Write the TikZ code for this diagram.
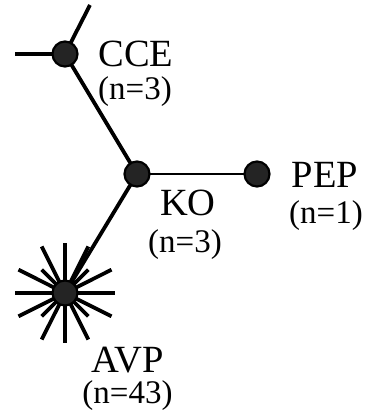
\documentclass[tikz,border=0pt]{standalone}
\usepackage{fontspec}
\setmainfont{Liberation Serif}
\usetikzlibrary{backgrounds}
\begin{document}
\begin{tikzpicture}[x=1pt,y=-1pt,
  vertex/.style={circle,draw=black,line width=2.2pt,fill=black!86,minimum size=25pt,inner sep=0pt},
  conn/.style={line width=3.8pt,line cap=butt},
  thinconn/.style={line width=2.6pt},
  spoke/.style={line width=3.8pt},
  lblname/.style={anchor=base,inner sep=0pt,font=\fontsize{38.5}{42}\selectfont},
  lblcount/.style={anchor=base,inner sep=0pt,font=\fontsize{33}{36}\selectfont}]
\useasboundingbox (0,0) rectangle (371,414);
\node[vertex] (cce) at (65,54) {};
\node[vertex] (ko) at (137,174) {};
\node[vertex] (pep) at (257,174) {};
\node[vertex] (avp) at (65,293) {};
\coordinate (cceup) at (90,5);
\coordinate (cceleft) at (15,54);
\node[lblname] (lcce) at (136,67) {CCE};
\node[lblcount] (ncce) at (135,100) {(n=3)};
\node[lblname] (lpep) at (325,187) {PEP};
\node[lblcount] (npep) at (326,223) {(n=1)};
\node[lblname] (lko) at (188,215) {KO};
\node[lblcount] (nko) at (185,252) {(n=3)};
\node[lblname] (lavp) at (128,372) {AVP};
\node[lblcount] (navp) at (127.5,403) {(n=43)};
\begin{scope}[on background layer]
\draw[conn] (cce.center) -- (cceup);
\draw[conn] (cce.center) -- (cceleft);
\draw[conn] (cce.center) -- (ko.center);
\draw[conn] (ko.center) -- (avp.center);
\draw[thinconn] (ko.center) -- (pep.center);
\foreach \a in {0,90,180,270}
  \draw[spoke] (avp.center) -- ++(\a:50);
\foreach \a in {26.57,63.43,116.57,153.43,206.57,243.43,296.57,333.43}
  \draw[spoke] (avp.center) -- ++(\a:52);
\foreach \a in {45,135,225,315}
  \draw[spoke] (avp.center) -- ++(\a:33);
\end{scope}
\end{tikzpicture}
\end{document}
